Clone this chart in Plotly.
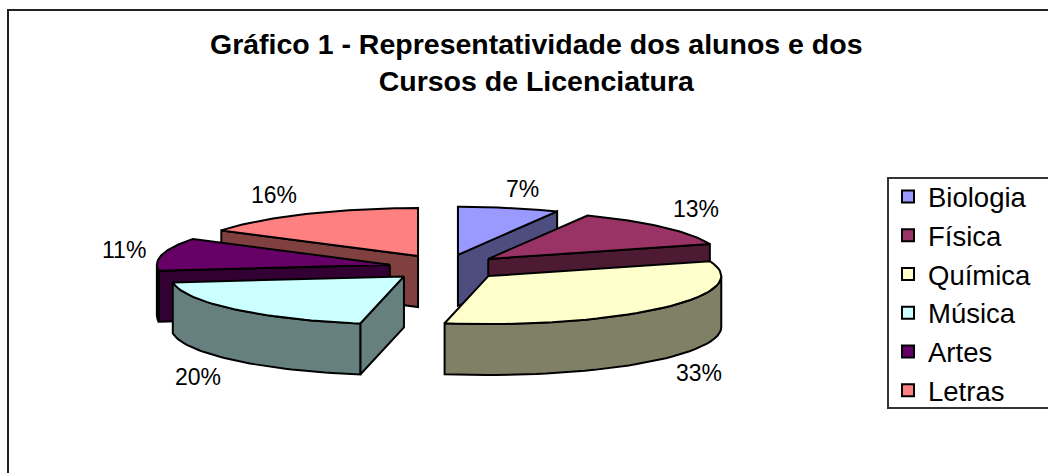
import math
import plotly.graph_objects as go

categories = ["Biologia", "Física", "Química", "Música", "Artes", "Letras"]
values = [7, 13, 33, 20, 11, 16]
top_colors = ["#9999FF", "#993366", "#FFFFCC", "#CCFFFF", "#660066", "#FF8080"]
wall_colors = ["#4D4D80", "#4D1A33", "#808066", "#668080", "#330033", "#804040"]
label_pos = [(522, 189), (696, 209), (699, 373), (198, 377), (124, 250), (274, 195)]

W, H = 1048, 473
CX, CY, RX, RY, DEPTH = 445.5, 267.5, 233, 48, 51
EX, EY = 57, 13
FONT = "Liberation Sans, Arial, sans-serif"


def arc(a0, a1, ox, oy, dz=0, n=40):
    pts = []
    for i in range(n + 1):
        a = math.radians(a0 + (a1 - a0) * i / n)
        pts.append((ox + RX * math.sin(a), oy - RY * math.cos(a) + dz))
    return pts


def poly(pts, fill, name=None):
    xs = [p[0] for p in pts] + [pts[0][0]]
    ys = [p[1] for p in pts] + [pts[0][1]]
    return go.Scatter(x=xs, y=ys, mode="lines", fill="toself", fillcolor=fill,
                      line=dict(color="black", width=2), hoverinfo="skip",
                      showlegend=False)


total = sum(values)
slices = []
start = 0.0
for v in values:
    sweep = v / total * 360
    slices.append((start, start + sweep))
    start += sweep

fig = go.Figure()
for idx in [5, 0, 4, 1, 3, 2]:
    a0, a1 = slices[idx]
    mid = math.radians((a0 + a1) / 2)
    ox = CX + EX * math.sin(mid)
    oy = CY - EY * math.cos(mid)
    wall = wall_colors[idx]
    for a, visible in ((a0, math.sin(math.radians(a0)) < -1e-6),
                       (a1, math.sin(math.radians(a1)) > 1e-6)):
        if visible:
            rim = arc(a, a, ox, oy, n=1)[0]
            fig.add_trace(poly([(ox, oy), rim, (rim[0], rim[1] + DEPTH), (ox, oy + DEPTH)], wall))
    f0, f1 = max(a0, 90), min(a1, 270)
    if f1 > f0:
        fig.add_trace(poly(arc(f0, f1, ox, oy) + arc(f0, f1, ox, oy, DEPTH)[::-1], wall))
    fig.add_trace(poly([(ox, oy)] + arc(a0, a1, ox, oy), top_colors[idx]))

for name, color in zip(categories, top_colors):
    fig.add_trace(go.Bar(x=[None], y=[None], name=name,
                         marker=dict(color=color, line=dict(color="black", width=2))))

annotations = [dict(x=x, y=y, text=f"{v}%", showarrow=False, xref="x", yref="y",
                    font=dict(family=FONT, size=23, color="black"))
               for (x, y), v in zip(label_pos, values)]
annotations.append(dict(x=536, y=62, xref="x", yref="y", showarrow=False, align="center",
                        text="<b>Gráfico 1 - Representatividade dos alunos e dos<br>Cursos de Licenciatura</b>",
                        font=dict(family=FONT, size=28.5, color="black")))

fig.update_layout(
    width=W, height=H, margin=dict(l=0, r=0, t=0, b=0),
    paper_bgcolor="white", plot_bgcolor="white",
    xaxis=dict(range=[0, W], visible=False, fixedrange=True),
    yaxis=dict(range=[H, 0], visible=False, fixedrange=True),
    annotations=annotations,
    shapes=[
        dict(type="rect", xref="x", yref="y", x0=8, y0=10, x1=W + 50, y1=H + 50,
             line=dict(color="#222222", width=2), layer="below"),
        dict(type="rect", xref="x", yref="y", x0=888, y0=178, x1=W + 50, y1=408,
             line=dict(color="#333333", width=2), layer="below"),
    ],
    legend=dict(x=888 / W, y=1 - 172 / H, xanchor="left", yanchor="top",
                font=dict(family=FONT, size=27.5, color="black"),
                bgcolor="rgba(0,0,0,0)", borderwidth=0, traceorder="normal"),
    showlegend=True,
)
fig.write_html("out.html", config=dict(displayModeBar=False),
               post_script="document.body.style.margin='0';")
